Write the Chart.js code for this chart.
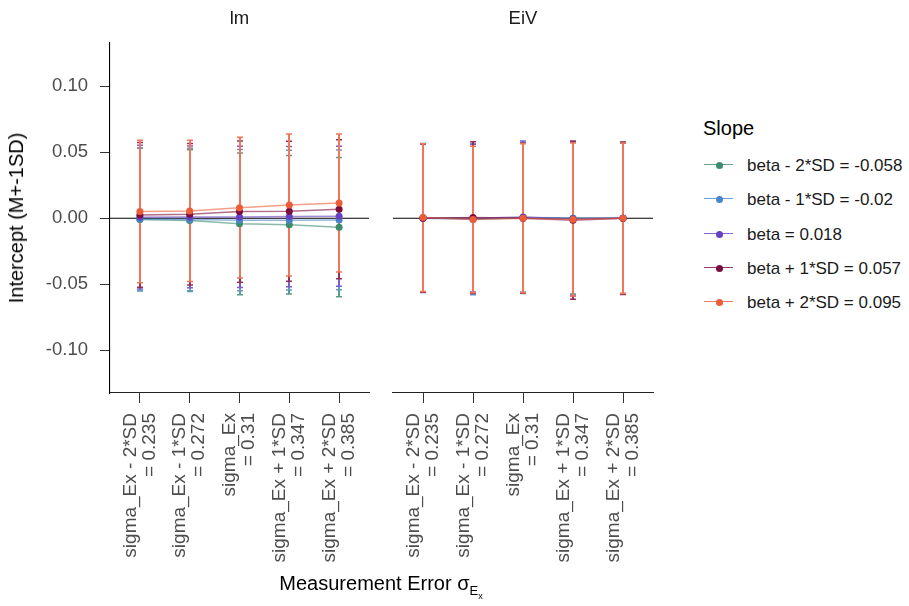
<!DOCTYPE html>
<html>
<head>
<meta charset="utf-8">
<script src="https://cdn.jsdelivr.net/npm/chart.js@4/dist/chart.umd.min.js"></script>
<style>
    body { margin: 0; background: #fff; font-family: "Liberation Sans", Arial, sans-serif; }
    #wrap { position: relative; width: 909px; height: 606px; overflow: hidden; background: #fff; }
    canvas { position: absolute; top: 0; }
    .lab { position: absolute; white-space: nowrap; line-height: 1; }
    .strip { font-size: 18.5px; color: #1a1a1a; text-align: center; top: 9px; }
    .item { position: absolute; left: 704px; height: 20px; }
    .key { position: absolute; left: 0; top: 9px; width: 29px; height: 0; border-top: 1.6px solid; }
    .dot { position: absolute; left: 12px; top: 7px; width: 7px; height: 7px; border-radius: 50%; }
    .txt { position: absolute; left: 43px; top: 1px; font-size: 17px; color: #1a1a1a; white-space: nowrap; }
</style>
</head>
<body>
<div id="wrap">
    <canvas id="lmChart" width="380" height="606" style="left:0"></canvas>
    <canvas id="eivChart" width="290" height="606" style="left:380px"></canvas>
    <div class="lab strip" style="left:110px; width:259px;">lm</div>
    <div class="lab strip" style="left:393px; width:260px;">EiV</div>
    <div class="lab" style="left:16px; top:218px; font-size:20px; color:#000; transform: translate(-50%, -50%) rotate(-90deg);">Intercept (M+-1SD)</div>
    <div class="lab" style="left:381px; top:573px; font-size:20px; color:#000; transform: translateX(-50%);">Measurement Error σ<sub style="font-size:13px;">E<sub style="font-size:9px;">x</sub></sub></div>
    <div class="lab" style="left:703px; top:118px; font-size:20px; color:#000;">Slope</div>
    <div id="legend"></div>
</div>
<script>
// categories (measurement error levels)
const xLabels = [
    ['sigma_Ex - 2*SD', '= 0.235'],
    ['sigma_Ex - 1*SD', '= 0.272'],
    ['sigma_Ex', '= 0.31'],
    ['sigma_Ex + 1*SD', '= 0.347'],
    ['sigma_Ex + 2*SD', '= 0.385']
];
const xPos = [0, 1, 2, 3, 4];
const yTicks = [-0.10, -0.05, 0.00, 0.05, 0.10];

// slope series
const seriesNames = [
    'beta - 2*SD = -0.058',
    'beta - 1*SD = -0.02',
    'beta = 0.018',
    'beta + 1*SD = 0.057',
    'beta + 2*SD = 0.095'
];
const seriesColors = ['#3D8B6D', '#4A86C6', '#6440C2', '#7B0D3E', '#EE5D3A'];

// lm panel: means per series (rows follow seriesNames)
const lmMeans = [
    [-0.0010, -0.0018, -0.0043, -0.0050, -0.0068],
    [-0.0008, -0.0010, -0.0015, -0.0015, -0.0013],
    [0.0008, 0.0010, 0.0010, 0.0012, 0.0015],
    [0.0025, 0.0030, 0.0050, 0.0053, 0.0068],
    [0.0050, 0.0055, 0.0080, 0.0100, 0.0115]
];
const lmSds = [
    [0.0540, 0.0537, 0.0537, 0.0525, 0.0528],
    [0.0542, 0.0540, 0.0535, 0.0530, 0.0530],
    [0.0545, 0.0538, 0.0535, 0.0532, 0.0530],
    [0.0548, 0.0537, 0.0535, 0.0530, 0.0527],
    [0.0540, 0.0535, 0.0534, 0.0538, 0.0523]
];

// EiV panel
const eivMeans = [
    [0.0005, -0.0005, 0.0000, 0.0000, 0.0000],
    [0.0000, -0.0010, 0.0005, 0.0000, 0.0000],
    [0.0000, 0.0000, 0.0010, -0.0005, 0.0000],
    [0.0000, 0.0005, 0.0000, -0.0015, 0.0000],
    [0.0005, -0.0010, 0.0000, -0.0010, 0.0000]
];
const eivSds = [
    [0.0562, 0.0565, 0.0570, 0.0575, 0.0575],
    [0.0562, 0.0570, 0.0565, 0.0580, 0.0572],
    [0.0563, 0.0560, 0.0575, 0.0585, 0.0570],
    [0.0562, 0.0575, 0.0568, 0.0600, 0.0578],
    [0.0560, 0.0555, 0.0565, 0.0580, 0.0570]
];

const fontFamily = '"Liberation Sans", Arial, sans-serif';

function fade(hex, a) {
    const n = parseInt(hex.slice(1), 16);
    return `rgba(${(n >> 16) & 255}, ${(n >> 8) & 255}, ${n & 255}, ${a})`;
}

// opaque, slightly lightened colour (so the top bar hides the ones below)
function lighten(hex, k) {
    const n = parseInt(hex.slice(1), 16);
    const mix = c => Math.round(c + (255 - c) * k);
    return `rgb(${mix((n >> 16) & 255)}, ${mix((n >> 8) & 255)}, ${mix(n & 255)})`;
}

// zero line + error bars, drawn under the lines and points
const errorBarPlugin = {
    id: 'errorBars',
    beforeDatasetsDraw(chart) {
        const { ctx, chartArea, scales: { x, y } } = chart;
        ctx.save();
        const y0 = y.getPixelForValue(0);
        ctx.strokeStyle = '#000';
        ctx.lineWidth = 1.1;
        ctx.beginPath();
        ctx.moveTo(chartArea.left, y0);
        ctx.lineTo(chartArea.right, y0);
        ctx.stroke();

        chart.data.datasets.forEach((ds, i) => {
            ctx.strokeStyle = lighten(seriesColors[i], 0.15);
            ctx.lineWidth = 2;
            ds.data.forEach((p, j) => {
                const sd = ds.sd[j];
                const px = Math.round(x.getPixelForValue(p.x));
                const top = y.getPixelForValue(p.y + sd);
                const bot = y.getPixelForValue(p.y - sd);
                ctx.beginPath();
                ctx.moveTo(px, top); ctx.lineTo(px, bot);
                ctx.stroke();
                ctx.lineWidth = 1.5;
                ctx.beginPath();
                ctx.moveTo(px - 3, top); ctx.lineTo(px + 3, top);
                ctx.moveTo(px - 3, bot); ctx.lineTo(px + 3, bot);
                ctx.stroke();
                ctx.lineWidth = 2;
            });
        });
        ctx.restore();
    }
};

function makeChart(id, means, sds, showY, padding) {
    const ctx = document.getElementById(id).getContext('2d');
    return new Chart(ctx, {
        type: 'line',
        data: {
            datasets: seriesNames.map((name, i) => ({
                label: name,
                data: xPos.map((v, j) => ({ x: v, y: means[i][j] })),
                sd: sds[i],
                borderColor: fade(seriesColors[i], 0.6),
                backgroundColor: seriesColors[i],
                pointBackgroundColor: seriesColors[i],
                pointBorderColor: seriesColors[i],
                pointRadius: 3.5,
                pointBorderWidth: 0,
                borderWidth: 1.5,
                tension: 0,
                order: 4 - i
            }))
        },
        options: {
            responsive: false,
            animation: false,
            devicePixelRatio: 1,
            layout: { padding: padding },
            plugins: { legend: { display: false }, tooltip: { enabled: false } },
            scales: {
                x: {
                    type: 'linear',
                    min: -0.6,
                    max: 4.6,
                    afterBuildTicks: s => { s.ticks = xPos.map(v => ({ value: v })); },
                    afterFit: s => { s.height = 213; s.paddingLeft = 0; s.paddingRight = 0; },
                    ticks: {
                        autoSkip: false,
                        minRotation: 90,
                        maxRotation: 90,
                        padding: 10,
                        labelOffset: -9.5,
                        color: '#4d4d4d',
                        font: { size: 19, family: fontFamily, lineHeight: 1.0 },
                        callback: v => xLabels[v]
                    },
                    grid: { drawOnChartArea: false, tickLength: 10, tickColor: '#333', tickWidth: 1 },
                    border: { color: '#222', width: 1.1 }
                },
                y: {
                    display: showY,
                    min: -0.1325,
                    max: 0.1328,
                    afterBuildTicks: s => { s.ticks = yTicks.map(v => ({ value: v })); },
                    afterFit: s => { s.width = showY ? 110 : 0; s.paddingTop = 0; s.paddingBottom = 0; },
                    ticks: {
                        padding: 12,
                        color: '#4d4d4d',
                        font: { size: 18.5, family: fontFamily },
                        callback: v => v.toFixed(2)
                    },
                    grid: { drawOnChartArea: false, tickLength: 10, tickColor: '#333', tickWidth: 1 },
                    border: { color: '#000', width: 1.1 }
                }
            }
        },
        plugins: [errorBarPlugin]
    });
}

makeChart('lmChart', lmMeans, lmSds, true, { left: 0, right: 11, top: 43, bottom: 0 });
makeChart('eivChart', eivMeans, eivSds, false, { left: 13, right: 17, top: 43, bottom: 0 });

// legend
const legend = document.getElementById('legend');
seriesNames.forEach((name, i) => {
    const item = document.createElement('div');
    item.className = 'item';
    item.style.top = (155 + i * 34.3) + 'px';
    item.innerHTML = `
        <div class="key" style="border-color:${fade(seriesColors[i], 0.8)}"></div>
        <div class="dot" style="background:${seriesColors[i]}"></div>
        <div class="txt">${name}</div>
    `;
    legend.appendChild(item);
});
</script>
</body>
</html>
